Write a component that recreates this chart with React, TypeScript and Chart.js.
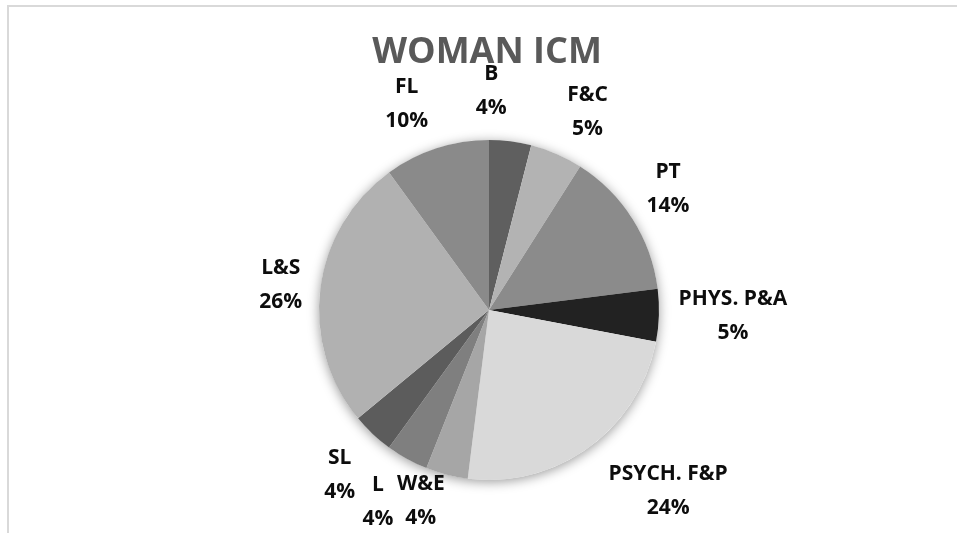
import React, { useEffect, useRef } from "react";
import { Chart, registerables } from "chart.js";

Chart.register(...registerables);

const TITLE = "WOMAN ICM";
const categories = ["B", "F&C", "PT", "PHYS. P&A", "PSYCH. F&P", "W&E", "L", "SL", "L&S", "FL"];
const values = [4, 5, 14, 5, 24, 4, 4, 4, 26, 10];
const sliceColors = [
  "#5f5f5f",
  "#b3b3b3",
  "#8b8b8b",
  "#222222",
  "#d9d9d9",
  "#a6a6a6",
  "#7f7f7f",
  "#5c5c5c",
  "#b1b1b1",
  "#8a8a8a",
];
// label nudges (px) from the default outside-label anchor
const labelNudges: [number, number][] = [
  [-25, -3],
  [12, 2],
  [-5, -4],
  [26, -1],
  [51, 5],
  [-14, -20],
  [-6, 1],
  [0, 6],
  [8, 2],
  [-15, 1],
];

const W = 957;
const H = 533;

const decorPlugin = {
  id: "decor",
  beforeDraw(chart: any) {
    const ctx = chart.ctx;
    ctx.save();
    ctx.fillStyle = "#ffffff";
    ctx.fillRect(0, 0, W, H);
    ctx.fillStyle = "#d9d9d9";
    ctx.fillRect(7, 5, W, 2);
    ctx.fillRect(7, 5, 2, H);
    ctx.fillStyle = "#595959";
    ctx.font = "bold 36px 'Open Sans'";
    ctx.textAlign = "center";
    ctx.textBaseline = "middle";
    ctx.fillText(TITLE, 487, 53);
    ctx.restore();
  },
  beforeDatasetsDraw(chart: any) {
    const meta = chart.getDatasetMeta(0);
    const arc = meta.data[0];
    if (!arc) return;
    const ctx = chart.ctx;
    ctx.save();
    ctx.shadowColor = "rgba(0,0,0,0.4)";
    ctx.shadowBlur = 12;
    ctx.shadowOffsetX = 0;
    ctx.shadowOffsetY = 2;
    ctx.fillStyle = "#ffffff";
    ctx.beginPath();
    ctx.arc(arc.x, arc.y, arc.outerRadius, 0, Math.PI * 2);
    ctx.fill();
    ctx.restore();
  },
  afterDatasetsDraw(chart: any) {
    const meta = chart.getDatasetMeta(0);
    const total = values.reduce((a, b) => a + b, 0);
    const ctx = chart.ctx;
    ctx.save();
    ctx.fillStyle = "#0d0d0d";
    ctx.font = "bold 21px 'Open Sans'";
    ctx.textAlign = "center";
    ctx.textBaseline = "middle";
    meta.data.forEach((arc: any, i: number) => {
      const mid = (arc.startAngle + arc.endAngle) / 2;
      const d = arc.outerRadius + 48;
      const x = arc.x + Math.cos(mid) * d + labelNudges[i][0];
      const y = arc.y + Math.sin(mid) * d + labelNudges[i][1];
      const pct = Math.round((values[i] / total) * 100) + "%";
      ctx.fillText(categories[i], x, y - 17);
      ctx.fillText(pct, x, y + 17);
    });
    ctx.restore();
  },
};

export default function App() {
  const ref = useRef<HTMLCanvasElement | null>(null);
  useEffect(() => {
    if (!ref.current) return;
    const chart = new Chart(ref.current, {
      type: "pie",
      data: {
        labels: categories,
        datasets: [
          {
            data: values,
            backgroundColor: sliceColors,
            borderWidth: 0,
          },
        ],
      },
      options: {
        responsive: false,
        animation: false,
        devicePixelRatio: 1,
        layout: { padding: { top: 140, bottom: 53, left: 319, right: 298 } },
        plugins: {
          legend: { display: false },
          title: { display: false },
          tooltip: { enabled: false },
        },
      },
      plugins: [decorPlugin],
    });
    return () => chart.destroy();
  }, []);
  return (
    <div style={{ position: "fixed", left: 0, top: 0, width: W, height: H, overflow: "hidden", background: "#fff" }}>
      <canvas ref={ref} width={W} height={H} style={{ display: "block", width: W, height: H }} />
    </div>
  );
}
